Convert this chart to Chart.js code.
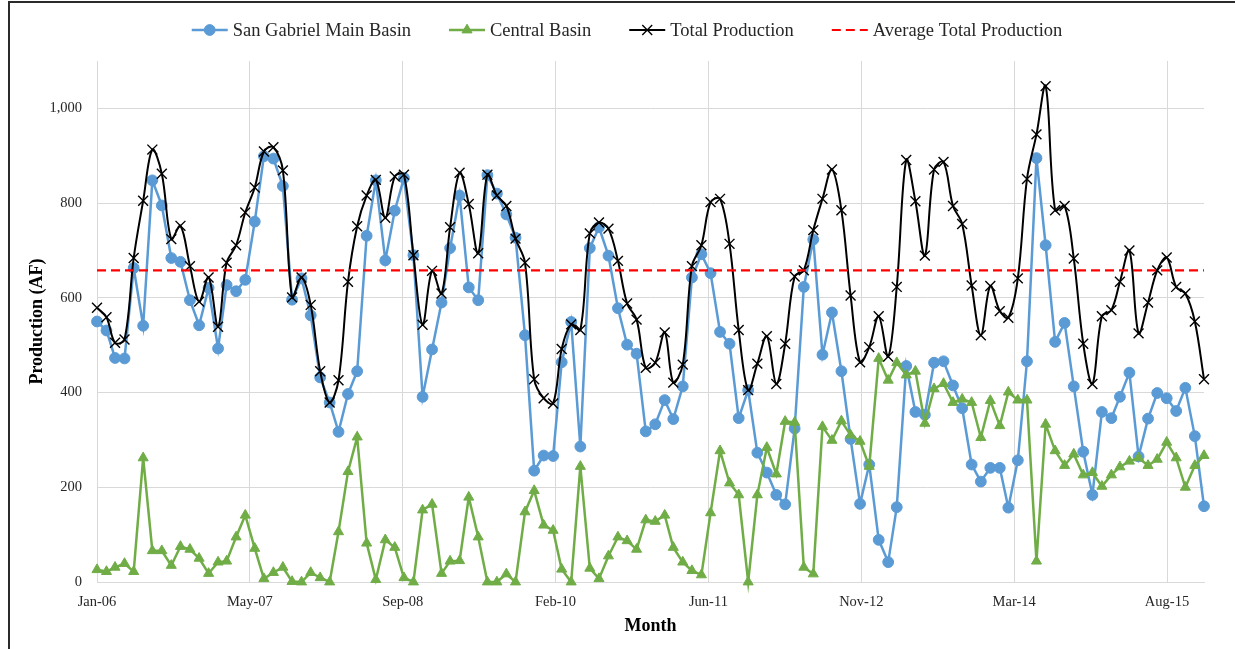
<!DOCTYPE html>
<html>
<head>
<meta charset="utf-8">
<title>Monthly Production</title>
<script src="https://cdn.jsdelivr.net/npm/chart.js@4.4.0/dist/chart.umd.min.js"></script>
<style>
  html, body { margin: 0; padding: 0; background: #fff; overflow: hidden; }
  #wrap { position: relative; width: 1235px; height: 649px; }
</style>
</head>
<body>
<div id="wrap"><canvas id="chart" width="1235" height="649"></canvas></div>
<script>
// Monthly production (acre-feet), January 2006 through December 2015
const startYear = 2006;
const monthCount = 120;

const sanGabrielMainBasin = [
  550, 531, 473, 472, 663, 541, 848, 795, 684, 676, 595, 542,
  621, 493, 627, 614, 638, 761, 899, 894, 836, 596, 641, 563,
  432, 379, 317, 397, 445, 731, 848, 679, 784, 853, 690, 391,
  491, 590, 705, 816, 622, 595, 859, 820, 776, 727, 521, 235,
  267, 266, 464, 549, 286, 705, 749, 689, 578, 501, 482, 318,
  333, 384, 344, 413, 643, 692, 652, 528, 503, 346, 405, 273,
  231, 184, 164, 324, 623, 723, 480, 569, 445, 302, 165, 248,
  89, 42, 158, 456, 359, 353, 463, 466, 415, 367, 248, 212,
  241, 241, 157, 257, 466, 895, 711, 507, 547, 413, 275, 184,
  359, 346, 391, 442, 265, 345, 399, 388, 361, 410, 308, 160
];

const centralBasin = [
  26, 22, 31, 39, 22, 262, 66, 66, 35, 75, 69, 50,
  18, 42, 44, 95, 141, 71, 7, 20, 31, 1, 0, 20,
  9, 0, 106, 233, 306, 82, 5, 89, 73, 9, 0, 152,
  164, 18, 44, 45, 179, 95, 0, 0, 17, 0, 148, 193,
  120, 109, 27, 0, 244, 29, 7, 55, 95, 87, 69, 131,
  128, 141, 73, 42, 24, 15, 146, 277, 209, 184, 0, 184,
  284, 228, 339, 337, 31, 17, 328, 299, 340, 310, 297, 244,
  472, 426, 463, 437, 445, 335, 408, 419, 379, 386, 379, 305,
  383, 330, 401, 384, 384, 44, 333, 277, 246, 270, 226, 231,
  202, 226, 243, 255, 262, 246, 259, 295, 262, 200, 246, 267
];

const totalProduction = [
  579, 559, 505, 512, 684, 805, 913, 862, 724, 752, 667, 592,
  643, 539, 674, 711, 780, 833, 909, 918, 869, 601, 643, 585,
  445, 379, 426, 634, 751, 816, 849, 769, 856, 860, 690, 543,
  657, 609, 749, 864, 798, 694, 860, 816, 794, 725, 674, 428,
  388, 377, 492, 544, 532, 736, 759, 746, 678, 588, 554, 452,
  463, 527, 421, 459, 667, 711, 802, 809, 714, 532, 405, 461,
  519, 418, 503, 645, 658, 743, 809, 871, 785, 605, 464, 496,
  561, 476, 623, 891, 804, 689, 871, 887, 794, 756, 626, 521,
  625, 572, 558, 641, 851, 945, 1047, 785, 794, 683, 503, 418,
  561, 574, 634, 700, 525, 590, 658, 685, 623, 609, 550, 428
];

const averageTotalProduction = 658;

const xTickLabels = ['Jan-06', 'May-07', 'Sep-08', 'Feb-10', 'Jun-11', 'Nov-12', 'Mar-14', 'Aug-15'];
const xTickStepDays = 500;
const yTickStep = 200;
const yMax = 1100;

// Month i is placed at its first day, counted in days from 1 January of the start year.
const DAY = 86400000;
const dayOf = i => (Date.UTC(startYear, i, 1) - Date.UTC(startYear, 0, 1)) / DAY;
const lastDay = dayOf(monthCount - 1);
const toPoints = arr => arr.map((v, i) => ({ x: dayOf(i), y: v }));

const serif = "'Liberation Serif', 'DejaVu Serif', serif";
Chart.defaults.font.family = serif;
Chart.defaults.color = '#262626';

// Outer frame and white background
const framePlugin = {
  id: 'frame',
  beforeDraw(chart) {
    const ctx = chart.ctx;
    ctx.save();
    ctx.fillStyle = '#fff';
    ctx.fillRect(0, 0, chart.width, chart.height);
    ctx.strokeStyle = '#2b2b2b';
    ctx.lineWidth = 2;
    ctx.beginPath();
    ctx.moveTo(9, chart.height);
    ctx.lineTo(9, 2);
    ctx.lineTo(chart.width, 2);
    ctx.stroke();
    ctx.restore();
  }
};

function drawMarker(ctx, ds, x, y) {
  if (!ds.pointStyle || !(ds.pointRadius > 0)) return;
  ctx.fillStyle = ds.pointBackgroundColor;
  ctx.strokeStyle = ds.pointBorderColor;
  ctx.lineWidth = ds.pointBorderWidth;
  ctx.setLineDash([]);
  Chart.helpers.drawPoint(ctx, {
    pointStyle: ds.pointStyle,
    radius: ds.pointRadius,
    borderWidth: ds.pointBorderWidth,
    rotation: 0
  }, x, y);
}

// Legend with a short line sample and the series marker for each dataset
const lineLegendPlugin = {
  id: 'lineLegend',
  afterDraw(chart, args, opts) {
    const ctx = chart.ctx;
    ctx.save();
    ctx.font = opts.font;
    const items = chart.data.datasets.map(ds => ({
      ds,
      w: opts.sample + opts.gap + ctx.measureText(ds.label).width
    }));
    const total = items.reduce((s, it) => s + it.w, 0) + opts.spacing * (items.length - 1);
    let x = opts.centerX - total / 2;
    const y = opts.y;
    items.forEach(({ ds, w }) => {
      ctx.strokeStyle = ds.borderColor;
      ctx.lineWidth = ds.borderWidth;
      ctx.setLineDash(ds.borderDash || []);
      ctx.beginPath();
      ctx.moveTo(x, y);
      ctx.lineTo(x + opts.sample, y);
      ctx.stroke();
      drawMarker(ctx, ds, x + opts.sample / 2, y);
      ctx.fillStyle = opts.color;
      ctx.textBaseline = 'middle';
      ctx.textAlign = 'left';
      ctx.fillText(ds.label, x + opts.sample + opts.gap, y + 1);
      x += w + opts.spacing;
    });
    ctx.restore();
  }
};

new Chart(document.getElementById('chart'), {
  type: 'line',
  data: {
    datasets: [
      {
        label: 'San Gabriel Main Basin',
        data: toPoints(sanGabrielMainBasin),
        borderColor: '#5B9BD5',
        backgroundColor: '#5B9BD5',
        borderWidth: 2.5,
        pointStyle: 'circle',
        pointRadius: 5.4,
        pointBackgroundColor: '#5B9BD5',
        pointBorderColor: '#5B9BD5',
        pointBorderWidth: 1,
        tension: 0,
        clip: false,
        order: 4
      },
      {
        label: 'Central Basin',
        data: toPoints(centralBasin),
        borderColor: '#70AD47',
        backgroundColor: '#70AD47',
        borderWidth: 2.5,
        pointStyle: 'triangle',
        pointRadius: 5.8,
        pointBackgroundColor: '#70AD47',
        pointBorderColor: '#70AD47',
        pointBorderWidth: 1,
        tension: 0,
        clip: false,
        order: 3
      },
      {
        label: 'Total Production',
        data: toPoints(totalProduction),
        borderColor: '#000000',
        backgroundColor: '#000000',
        borderWidth: 2,
        pointStyle: 'crossRot',
        pointRadius: 7,
        pointBackgroundColor: '#000000',
        pointBorderColor: '#000000',
        pointBorderWidth: 1.4,
        tension: 0.35,
        clip: false,
        order: 2
      },
      {
        label: 'Average Total Production',
        data: [{ x: 0, y: averageTotalProduction }, { x: lastDay, y: averageTotalProduction }],
        borderColor: '#FF0000',
        backgroundColor: '#FF0000',
        borderWidth: 2.2,
        borderDash: [9, 5],
        pointStyle: false,
        pointRadius: 0,
        tension: 0,
        clip: false,
        order: 1
      }
    ]
  },
  options: {
    responsive: false,
    animation: false,
    events: [],
    layout: { padding: { left: 12, right: 31, top: 61, bottom: 0 } },
    plugins: {
      legend: { display: false },
      tooltip: { enabled: false },
      lineLegend: {
        font: "18.5px " + serif,
        color: '#262626',
        sample: 36,
        gap: 5,
        spacing: 38,
        centerX: 627,
        y: 30
      }
    },
    scales: {
      x: {
        type: 'linear',
        min: 0,
        max: lastDay,
        afterBuildTicks: scale => {
          scale.ticks = xTickLabels.map((_, i) => ({ value: i * xTickStepDays }));
        },
        afterFit: scale => { scale.height = 67; },
        ticks: {
          autoSkip: false,
          maxRotation: 0,
          minRotation: 0,
          padding: 11,
          font: { size: 14.5 },
          color: '#262626',
          callback: (value, index) => xTickLabels[index]
        },
        grid: { color: '#d9d9d9', lineWidth: 1, drawTicks: false },
        border: { color: '#d9d9d9', width: 1 },
        title: {
          display: true,
          text: 'Month',
          color: '#000',
          font: { size: 18, weight: 'bold' },
          padding: { top: 0, bottom: 12 }
        }
      },
      y: {
        min: 0,
        max: yMax,
        afterFit: scale => { scale.width = 85; },
        ticks: {
          stepSize: yTickStep,
          includeBounds: false,
          padding: 15,
          font: { size: 14.5 },
          color: '#262626',
          callback: v => v.toLocaleString('en-US')
        },
        grid: { color: '#d9d9d9', lineWidth: 1, drawTicks: false },
        border: { display: false },
        title: {
          display: true,
          text: 'Production (AF)',
          color: '#000',
          font: { size: 18, weight: 'bold' },
          padding: { top: 15, bottom: 0 }
        }
      }
    }
  },
  plugins: [framePlugin, lineLegendPlugin]
});
</script>
</body>
</html>
